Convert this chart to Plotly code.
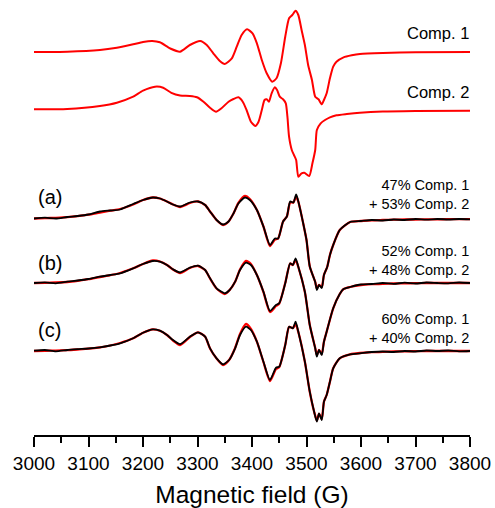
import plotly.graph_objects as go

# ---------------- data (magnetic field in G, signal in arbitrary units) ----------------
field_c1 = [3000, 3061, 3121, 3152, 3182, 3200, 3217, 3231, 3250, 3268, 3286, 3305, 3317, 3329,
            3341, 3350, 3363, 3372, 3381, 3391, 3401, 3409, 3418, 3427, 3437, 3445, 3453, 3461,
            3468, 3474, 3480, 3485, 3491, 3497, 3503, 3510, 3516, 3522, 3528, 3532, 3537, 3543,
            3549, 3555, 3568, 3583, 3598, 3640, 3700, 3800]
comp1 = [0, 0.3, 2, 4.3, 7.7, 10, 11, 9.7, 3.5, 0.3, 7, 11, 7, -1.3,
         -9, -12, -6.3, 5.3, 17, 22.7, 18.7, 8.7, -8, -21.3, -29.7, -26.3, -11.3, 15.3,
         33.7, 37, 41.3, 37, 22, 7, -13, -28, -44.7, -47.3, -52.3, -48, -41.3, -26.3,
         -14.7, -9.7, -5.3, -3.3, -2, -1, -0.3, 0]

field_c2 = [3000, 3061, 3121, 3152, 3182, 3200, 3222, 3237, 3252, 3268, 3286, 3299, 3311, 3323,
            3334, 3344, 3357, 3366, 3375, 3383, 3390, 3398, 3406, 3412, 3418, 3423, 3427, 3431,
            3436, 3442, 3446, 3451, 3457, 3462, 3465, 3468, 3473, 3477, 3481, 3485, 3491, 3496,
            3505, 3511, 3516, 3519, 3526, 3534, 3543, 3555, 3574, 3598, 3640, 3700, 3800]
comp2 = [0.7, 1, 4, 7.3, 13.3, 19.3, 23.3, 22.3, 17.2, 14.5, 14, 12.7, 8.3, 2.3,
         -1.7, 1.7, 8.3, 11, 12.7, 8.3, 0, -11.7, -16, -11.7, 0, 10, 10.7, 8.3,
         16.7, 22.7, 20, 13.3, 10.7, 6.7, -6.7, -26.7, -40, -45, -50, -66.7, -63.3, -62.7,
         -66, -53, -40, -20, -13.3, -10, -7.3, -5.3, -4, -2.7, -1.5, -1, -0.7]

# (a) 47% Comp.1 + 53% Comp.2
field_a = [3000, 3020, 3040, 3061, 3080, 3100, 3121, 3140, 3158, 3182, 3200, 3218, 3231, 3244,
           3255, 3268, 3286, 3301, 3314, 3323, 3335, 3347, 3357, 3366, 3375, 3387, 3396, 3409,
           3421, 3433, 3442, 3448, 3457, 3464, 3470, 3476, 3481, 3485, 3494, 3500, 3506, 3516,
           3519, 3523, 3528, 3532, 3538, 3543, 3549, 3561, 3580, 3600, 3620, 3640, 3660, 3680,
           3700, 3720, 3740, 3760, 3780, 3800]
exp_a = [0, 0.8, 0, 1.5, 2.5, 4, 7, 8, 9, 14.5, 18.5, 21, 20, 17,
         14, 12, 16, 17, 13.5, 7, -1.5, -6, -3, 5, 15, 21, 18.5, 8.5,
         -8, -26.5, -20, -20, -3, 2, 17, 16, 24, 17, -5, -21.5, -48, -63.5,
         -71.5, -66.5, -69.5, -56.5, -48.5, -36.5, -26.5, -11.5, -3.5, -2.5, -1.5, -2, -1, -1.5,
         -0.5, -1.2, -0.5, -1, -0.5, -0.8]
fit_a = [0, 0.3, 0.7, 1.3, 2.3, 3.8, 6, 7.8, 9.5, 14, 18.5, 21, 20, 17,
         14, 11.5, 15.5, 17, 13.5, 7, -1.5, -6.5, -3, 5, 15.5, 22.5, 19.5, 8.5,
         -8, -27.5, -21, -20, -3, 2, 16, 16, 22, 17, -5, -21.5, -48, -63.5,
         -70, -66.5, -68.5, -56.5, -48.5, -36.5, -26.5, -11.5, -3.5, -2.5, -1.8, -1.5, -1.2, -1,
         -1, -0.8, -0.8, -0.7, -0.7, -0.7]

# (b) 52% Comp.1 + 48% Comp.2
field_b = [3000, 3020, 3040, 3061, 3080, 3100, 3121, 3140, 3158, 3182, 3200, 3218, 3231, 3244,
           3255, 3268, 3286, 3301, 3314, 3323, 3335, 3350, 3359, 3369, 3378, 3389, 3398, 3409,
           3421, 3433, 3444, 3450, 3461, 3470, 3475, 3480, 3485, 3497, 3506, 3516, 3519, 3523,
           3528, 3532, 3537, 3549, 3561, 3568, 3580, 3600, 3620, 3640, 3660, 3680, 3700, 3720,
           3740, 3760, 3780, 3800]
exp_b = [0, 0.6, -0.3, 1.3, 2.5, 4, 6.3, 8, 9.7, 14.7, 19, 22, 21.3, 18,
         13.7, 10.5, 15.3, 17.3, 13, 4.7, -5.3, -10.3, -7, 1.3, 13, 20.3, 18, 8,
         -8.7, -28, -22, -20.3, -0.3, 19.7, 18, 24.7, 16.3, -8.7, -42, -65.3, -73.7, -67,
         -72, -58.7, -48.7, -25.3, -11, -6, -4, -1.5, -1, 0, -0.8, 0.3, -0.5, 0.5,
         0, -0.3, 0.5, 0]
fit_b = [0, 0.2, 0.5, 1, 2.2, 3.8, 6, 7.8, 10, 14.7, 19, 22.5, 21.5, 18,
         13.5, 10, 15, 17, 13, 4.5, -5.5, -11, -7, 1.3, 13.5, 22, 19, 8,
         -9, -29, -23, -20.5, 0, 19.5, 18, 23, 16, -9, -42, -65, -72, -67,
         -71, -58.7, -48.7, -25.3, -11, -6, -4, -2, -1.2, -0.8, -0.5, -0.3, -0.2, 0,
         0, 0, 0, 0]

# (c) 60% Comp.1 + 40% Comp.2
field_c = [3000, 3020, 3040, 3061, 3080, 3100, 3121, 3140, 3158, 3182, 3200, 3218, 3231, 3244,
           3255, 3268, 3286, 3301, 3314, 3323, 3335, 3347, 3358, 3369, 3378, 3389, 3398, 3409,
           3421, 3433, 3444, 3450, 3461, 3468, 3475, 3480, 3485, 3497, 3506, 3514, 3519, 3523,
           3528, 3532, 3537, 3543, 3549, 3561, 3580, 3598, 3620, 3640, 3660, 3680, 3700, 3720,
           3740, 3760, 3780, 3800]
exp_c = [0.3, 1, -0.3, 1, 1.8, 2.5, 3.7, 5.5, 7.7, 12.7, 18.3, 21.7, 20.3, 16,
         11, 6.8, 14.3, 18.7, 14.3, 2.7, -7.3, -13.3, -9, 2.7, 16, 24.3, 21, 9.3,
         -10.7, -29, -16.7, -15.7, 6, 24.3, 22.7, 29.3, 19.3, -10.7, -40.7, -60.7, -70.7, -62.3,
         -69, -50.7, -44, -30.7, -17.3, -7.3, -3.3, -2.3, -1, -0.5, -1, 0, -0.5, 0.5,
         0, 0.5, -0.3, 0]
fit_c = [0, 0.2, 0.4, 0.8, 1.5, 2.3, 3.7, 5.5, 8, 12.7, 18.3, 21.7, 20.3, 16,
         10.5, 6, 14, 18.7, 14.3, 2.5, -7.5, -14, -9, 3, 17, 27, 22, 9.3,
         -11, -30, -18, -16, 6, 24, 23, 27, 19, -10.7, -40.7, -60.7, -69.5, -63,
         -68, -50.7, -44, -30.7, -17.3, -7.3, -3.3, -2, -1.2, -0.8, -0.5, -0.3, -0.2, 0,
         0, 0, 0, 0]

comp_labels = ["Comp. 1", "Comp. 2"]
mix_labels = ["47% Comp. 1<br>+ 53% Comp. 2",
              "52% Comp. 1<br>+ 48% Comp. 2",
              "60% Comp. 1<br>+ 40% Comp. 2"]
panel_labels = ["(a)", "(b)", "(c)"]

# vertical stacking offsets
off_c1, off_c2 = 383, 325
off_a, off_b, off_c = 216.5, 152, 84

RED = "#ff0000"
BLACK = "#000000"
FONT = "Arial, Liberation Sans, sans-serif"

fig = go.Figure()


def add(x, y, off, color, width=2.0):
    fig.add_trace(go.Scatter(
        x=x, y=[v + off for v in y], mode="lines",
        line=dict(color=color, width=width, shape="spline", smoothing=0.6),
        showlegend=False, hoverinfo="skip"))


add(field_c1, comp1, off_c1, RED)
add(field_c2, comp2, off_c2, RED)
for fx, ex, ft, off in [(field_a, exp_a, fit_a, off_a),
                        (field_b, exp_b, fit_b, off_b),
                        (field_c, exp_c, fit_c, off_c)]:
    add(fx, ft, off, RED, 2.3)
    add(fx, ex, off, BLACK, 1.8)

ann = []
for lab, y in zip(comp_labels, [402, 343]):
    ann.append(dict(x=3800, y=y, text=lab, showarrow=False, xanchor="right", xshift=1,
                    yanchor="middle", font=dict(size=16.5, color="#000", family=FONT)))
for lab, y in zip(mix_labels, [240.5, 174.5, 107]):
    ann.append(dict(x=3800, y=y, text=lab, showarrow=False, xanchor="right", align="right",
                    xshift=1, yanchor="middle", font=dict(size=14.5, color="#000", family=FONT)))
for lab, y in zip(panel_labels, [238, 172, 105]):
    ann.append(dict(x=3003, y=y, text=lab, showarrow=False, xanchor="left",
                    yanchor="middle", font=dict(size=20, color="#000", family=FONT)))

fig.update_layout(
    width=495, height=508,
    margin=dict(l=34, r=25, t=0, b=73),
    paper_bgcolor="white", plot_bgcolor="white",
    font=dict(family=FONT, color="#000"),
    annotations=ann,
    xaxis=dict(range=[3000, 3800], showgrid=False, zeroline=False, automargin=False,
               showline=True, linecolor="black", linewidth=1.5,
               ticks="outside", ticklen=10, tickwidth=1.5, tickcolor="black",
               tick0=3000, dtick=100,
               minor=dict(ticks="outside", ticklen=6, tickwidth=1.5, tickcolor="black", dtick=50),
               tickfont=dict(size=19, family=FONT, color="#000"),
               title=dict(text="Magnetic field (G)", font=dict(size=24.5, family=FONT, color="#000"),
                          standoff=22)),
    yaxis=dict(range=[0, 435], visible=False, showgrid=False, zeroline=False),
)

fig.write_html("out.html")
